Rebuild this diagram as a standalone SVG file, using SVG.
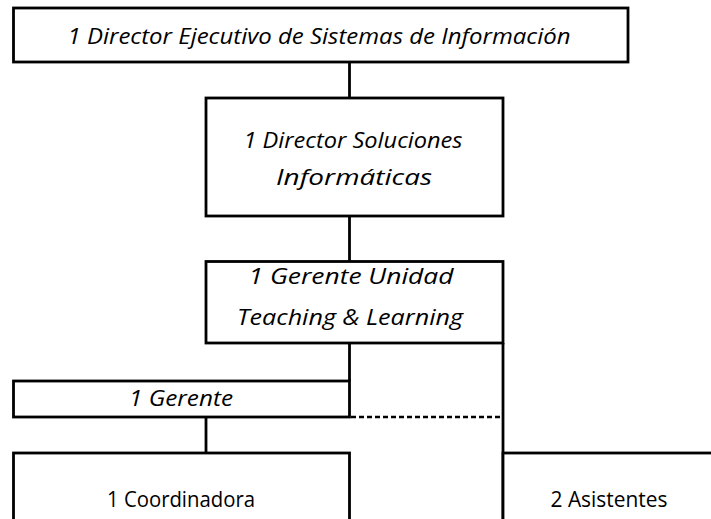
<svg xmlns="http://www.w3.org/2000/svg" width="711" height="519" viewBox="0 0 711 519">
<style>
.box{fill:#fff;stroke:#000;stroke-width:2.8}
.ln{fill:none;stroke:#000;stroke-width:2.8}
.dash{fill:none;stroke:#000;stroke-width:2.6;stroke-dasharray:5 3}
text{font-family:"Open Sans","Liberation Sans",Arial,sans-serif;font-size:22px;fill:#000;text-anchor:middle}
.it{font-style:italic}
</style>
<rect width="711" height="519" fill="#fff"/>
<g id="connectors">
<line class="ln" x1="349.5" y1="62" x2="349.5" y2="98"/>
<line class="ln" x1="349.5" y1="216" x2="349.5" y2="261.5"/>
<line class="ln" x1="349.5" y1="343" x2="349.5" y2="381"/>
<line class="ln" x1="503" y1="343" x2="503" y2="519"/>
<line class="dash" x1="351" y1="417" x2="502" y2="417"/>
<line class="ln" x1="206" y1="417" x2="206" y2="453"/>
</g>
<g id="n1">
<rect class="box" x="13.5" y="8" width="614.5" height="54"/>
<text class="it" x="319" y="44" textLength="503" lengthAdjust="spacingAndGlyphs">1 Director Ejecutivo de Sistemas de Información</text>
</g>
<g id="n2">
<rect class="box" x="206" y="98" width="297" height="118"/>
<text class="it" x="353" y="148" textLength="219" lengthAdjust="spacingAndGlyphs">1 Director Soluciones</text>
<text class="it" x="354" y="185" textLength="156" lengthAdjust="spacingAndGlyphs">Informáticas</text>
</g>
<g id="n3">
<rect class="box" x="206" y="261.5" width="297" height="81.5"/>
<text class="it" x="351" y="284" textLength="205" lengthAdjust="spacingAndGlyphs">1 Gerente Unidad</text>
<text class="it" x="350" y="325" textLength="226" lengthAdjust="spacingAndGlyphs">Teaching &amp; Learning</text>
</g>
<g id="n4">
<rect class="box" x="13.5" y="381" width="336" height="36"/>
<text class="it" x="181" y="406" textLength="104" lengthAdjust="spacingAndGlyphs">1 Gerente</text>
</g>
<g id="n5">
<rect class="box" x="13.5" y="453" width="336" height="100"/>
<text x="181" y="507" textLength="148" lengthAdjust="spacingAndGlyphs">1 Coordinadora</text>
</g>
<g id="n6">
<rect class="box" x="503" y="453" width="250" height="100"/>
<text x="609" y="507" textLength="117" lengthAdjust="spacingAndGlyphs">2 Asistentes</text>
</g>
</svg>
